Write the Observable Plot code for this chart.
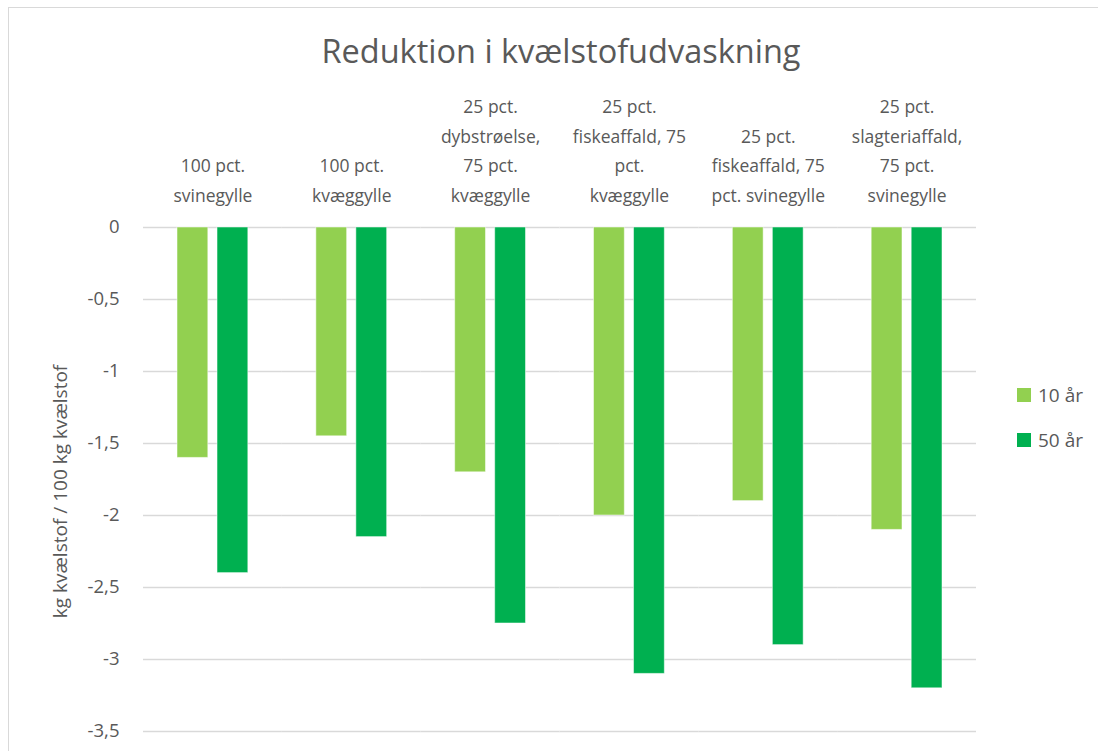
<!DOCTYPE html>
<html>
<head>
<meta charset="utf-8">
<script src="https://cdn.jsdelivr.net/npm/d3@7"></script>
<script src="https://cdn.jsdelivr.net/npm/@observablehq/plot@0.6"></script>
<style>
  html, body { margin: 0; padding: 0; background: #fff; }
  #wrap { position: relative; width: 1098px; height: 751px; overflow: hidden; font-family: "Open Sans", sans-serif; color: #595959; }
  #frame { position: absolute; left: 8px; top: 7px; width: 1200px; height: 900px; border: 1px solid #d9d9d9; box-sizing: border-box; pointer-events: none; }
  #title { position: absolute; left: 0; top: 0; width: 1122px; height: 90px; line-height: 102px; text-align: center; font-size: 32.5px; color: #595959; }
  #chart { position: absolute; left: 0; top: 90px; }
  #legend { position: absolute; left: 1017px; top: 384px; font-size: 19px; color: #595959; }
  #legend .item { display: flex; align-items: center; height: 22px; margin-bottom: 23px; }
  #legend .sw { width: 14px; height: 14px; margin-right: 7px; }
</style>
</head>
<body>
<div id="wrap">
  <div id="title">Reduktion i kvælstofudvaskning</div>
  <div id="chart"></div>
  <div id="legend"></div>
  <div id="frame"></div>
</div>
<script>
const categories = [
  "100 pct.\nsvinegylle",
  "100 pct.\nkvæggylle",
  "25 pct.\ndybstrøelse,\n75 pct.\nkvæggylle",
  "25 pct.\nfiskeaffald, 75\npct.\nkvæggylle",
  "25 pct.\nfiskeaffald, 75\npct. svinegylle",
  "25 pct.\nslagteriaffald,\n75 pct.\nsvinegylle"
];
const series = ["10 år", "50 år"];
const values10 = [-1.6, -1.45, -1.7, -2.0, -1.9, -2.1];
const values50 = [-2.4, -2.15, -2.75, -3.1, -2.9, -3.2];
const yTicks = [0, -0.5, -1, -1.5, -2, -2.5, -3, -3.5];
const yTitle = "kg kvælstof / 100 kg kvælstof";
const colors = ["#92d050", "#00b050"];

const data = [];
categories.forEach((c, i) => {
  data.push({category: c, series: series[0], value: values10[i]});
  data.push({category: c, series: series[1], value: values50[i]});
});

const fmt = d => String(d).replace(".", ",");

const chart = Plot.plot({
  width: 1098,
  height: 661,
  marginTop: 137,
  marginBottom: 20,
  marginLeft: 143,
  marginRight: 122,
  style: {fontFamily: "Open Sans, sans-serif", color: "#595959", background: "transparent"},
  fx: {domain: categories, padding: 0, round: false, label: null},
  x: {domain: series, paddingInner: 0.23, paddingOuter: 0.85, round: false, axis: null},
  y: {domain: [-3.5, 0], label: null, axis: null},
  color: {domain: series, range: colors},
  marks: [
    Plot.gridY(yTicks, {stroke: "#d9d9d9", strokeOpacity: 1, strokeWidth: 1.3}),
    Plot.axisY(yTicks, {tickSize: 0, tickPadding: 24, tickFormat: fmt, fontSize: 18.5, fill: "#595959", label: null}),
    Plot.axisFx({anchor: "top", tickSize: 0, tickPadding: 26, fontSize: 17.5, lineHeight: 1.68, fill: "#595959", label: null}),
    Plot.text([{fx: categories[0], t: yTitle}], {fx: "fx", text: "t", frameAnchor: "left", dx: -83, dy: 12, rotate: -90, lineAnchor: "middle", textAnchor: "middle", fontSize: 19, fill: "#595959"}),
    Plot.barY(data, {fx: "category", x: "series", y: "value", fill: "series", stroke: "white", strokeOpacity: 0.5, strokeWidth: 1})
  ]
});
document.getElementById("chart").appendChild(chart);

const legend = document.getElementById("legend");
series.forEach((s, i) => {
  const item = document.createElement("div");
  item.className = "item";
  const sw = document.createElement("span");
  sw.className = "sw";
  sw.style.background = colors[i];
  const t = document.createElement("span");
  t.textContent = s;
  item.appendChild(sw);
  item.appendChild(t);
  legend.appendChild(item);
});
</script>
</body>
</html>
